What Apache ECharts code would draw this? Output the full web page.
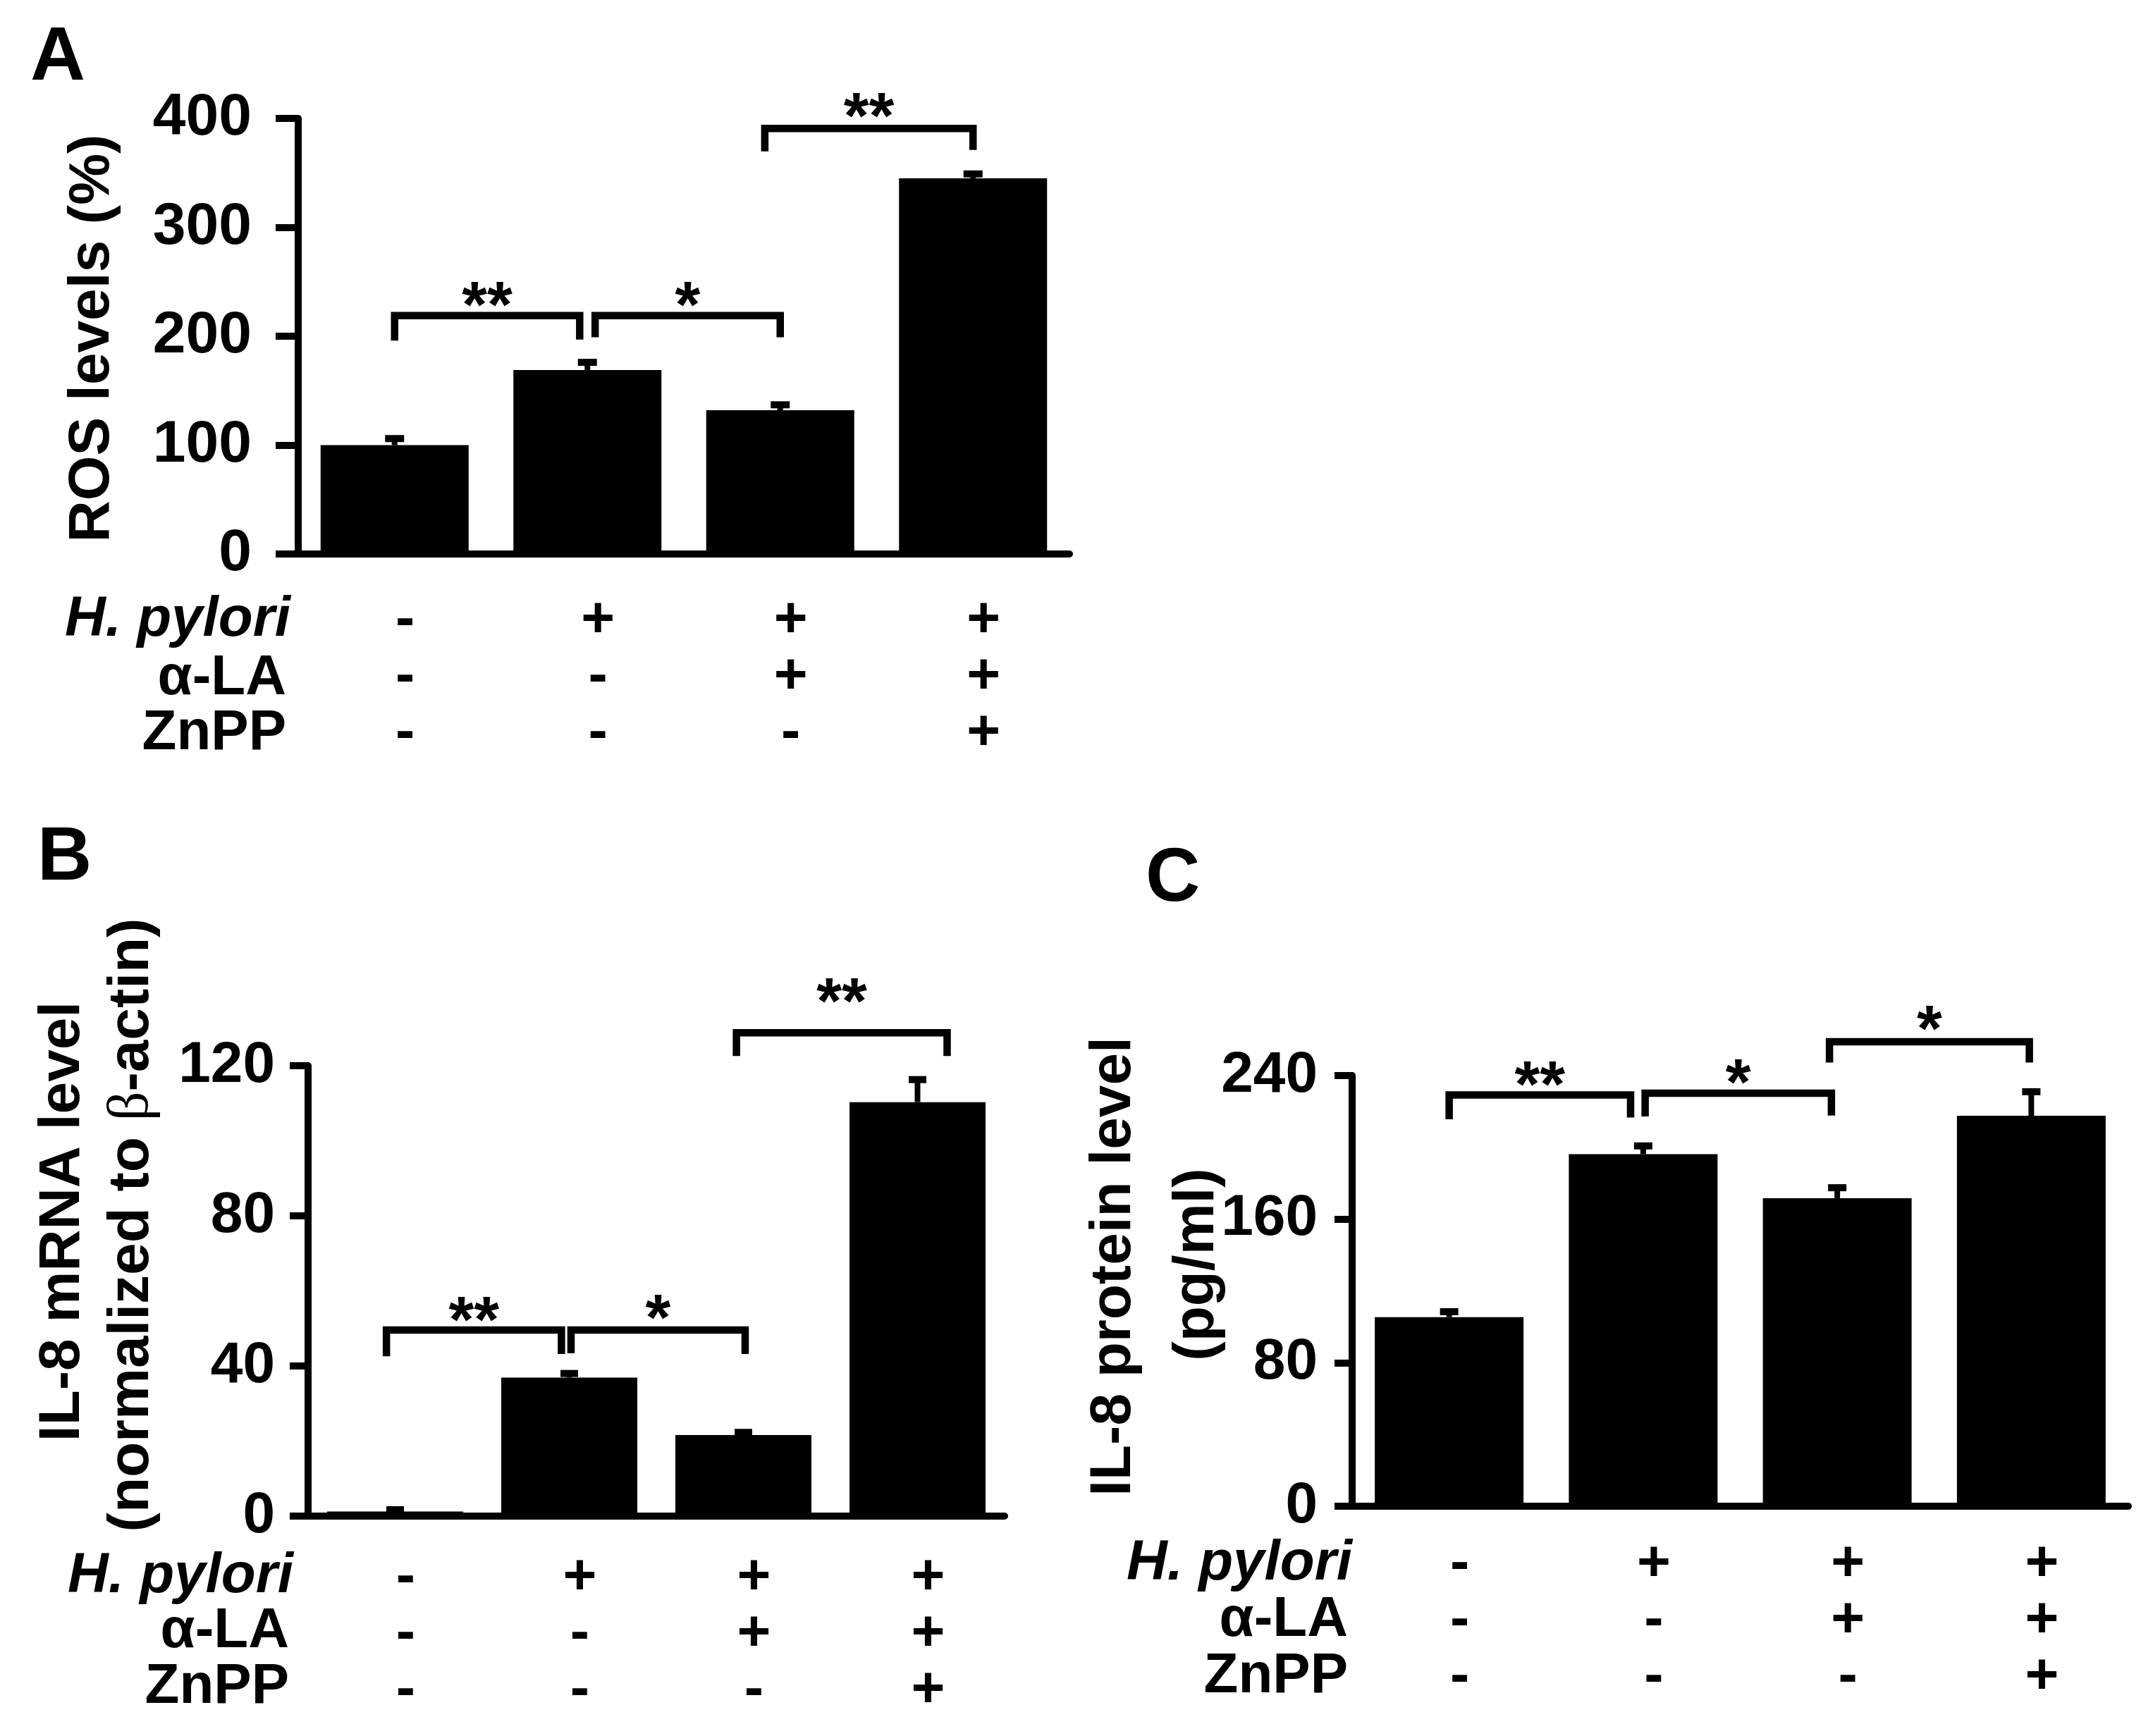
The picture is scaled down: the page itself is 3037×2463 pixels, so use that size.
<!DOCTYPE html>
<html>
<head>
<meta charset="utf-8">
<script src="https://cdn.jsdelivr.net/npm/echarts@6/dist/echarts.min.js"></script>
<style>
  html, body { margin: 0; padding: 0; background: #fff; }
  #chart { width: 3037px; height: 2463px; }
</style>
</head>
<body>
<div id="chart"></div>
<script>
// treatment table under every panel
const groups = ['g1', 'g2', 'g3', 'g4'];
const hPylori = ['-', '+', '+', '+'];
const alphaLA = ['-', '-', '+', '+'];
const znpp = ['-', '-', '-', '+'];

// A: ROS levels (%)
const rosMean = [100, 169, 132, 345];
const rosErr = [6, 7, 5, 4];
// B: IL-8 mRNA (normalized to beta-actin)
const mrnaMean = [1.2, 36.9, 21.6, 110.3];
const mrnaErr = [0.5, 1.1, 0.7, 6.0];
// C: IL-8 protein (pg/ml)
const protMean = [105.4, 196.2, 171.7, 217.6];
const protErr = [3.0, 4.6, 5.8, 13.4];

// significance brackets: [from, to, bar height, left leg end, right leg end, label, label height]
const rosSig = [
    [0.0, 0.96, 219, 196, 197, '**', 239],
    [1.04, 2.0, 219, 199, 199, '*', 239],
    [1.92, 3.0, 390.7, 369.7, 371, '**', 412]
];
const mrnaSig = [
    [-0.05, 0.955, 49.6, 42.6, 43.2, '**', 55.2],
    [1.01, 2.01, 49.6, 43.4, 43.2, '*', 55.8],
    [1.96, 3.17, 128.8, 122.6, 122.6, '**', 140]
];
const protSig = [
    [0.0, 0.935, 229.2, 215.6, 216.6, '**', 241.3],
    [1.01, 1.97, 230.2, 217.2, 217.7, '*', 242.4],
    [1.96, 2.99, 258.9, 247.3, 247.3, '*', 272.3]
];

const FONT = '"Liberation Sans", Arial, sans-serif';
const STAR_SIZE = 92;

let chart = echarts.init(document.getElementById('chart'), null, {renderer: 'canvas'});

function catAxis(gridIndex, margin) {
    return {
        type: 'category', gridIndex: gridIndex, data: groups,
        axisLine: {onZero: false, lineStyle: {color: '#000', width: 10}},
        axisTick: {show: false},
        axisLabel: {
            interval: 0, margin: margin, lineHeight: 80, padding: [0, 0, 0, 30],
            fontSize: 82, fontWeight: 'bold', fontFamily: FONT, color: '#000',
            formatter: (v, i) => [hPylori[i], alphaLA[i], znpp[i]].join('\n')
        }
    };
}

function posAxis(gridIndex) {
    // hidden linear twin of the category axis, used for the brackets
    return {type: 'value', gridIndex: gridIndex, min: -0.5, max: 3.5, show: false};
}

function valAxis(gridIndex, max, interval, margin, tickLen, labelPad, fontSize) {
    return {
        type: 'value', gridIndex: gridIndex, min: 0, max: max, interval: interval,
        axisLine: {show: true, onZero: false, lineStyle: {color: '#000', width: 10}},
        axisTick: {show: true, length: tickLen, lineStyle: {color: '#000', width: 10}},
        splitLine: {show: false},
        axisLabel: {
            margin: margin, padding: labelPad,
            fontSize: fontSize, fontWeight: 'bold', fontFamily: FONT, color: '#000'
        }
    };
}

function barSeries(axisIndex, means, barWidth) {
    return {
        type: 'bar', xAxisIndex: axisIndex * 2, yAxisIndex: axisIndex,
        data: means, barWidth: barWidth,
        itemStyle: {color: '#000'},
        z: 2
    };
}

function errSeries(axisIndex, means, errs, capW) {
    return {
        type: 'custom', xAxisIndex: axisIndex * 2, yAxisIndex: axisIndex, clip: false, z: 3,
        data: means.map((m, i) => [i, m, m + errs[i]]),
        renderItem: (params, api) => {
            const base = api.coord([api.value(0), api.value(1)]);
            const top = api.coord([api.value(0), api.value(2)]);
            return {
                type: 'group', children: [
                    {type: 'line', shape: {x1: base[0], y1: base[1], x2: top[0], y2: top[1]},
                        style: {stroke: '#000', lineWidth: 8}},
                    {type: 'line', shape: {x1: top[0] - capW / 2, y1: top[1], x2: top[0] + capW / 2, y2: top[1]},
                        style: {stroke: '#000', lineWidth: 10}}
                ]
            };
        }
    };
}

function sigSeries(axisIndex, sig) {
    return {
        type: 'custom', xAxisIndex: axisIndex * 2 + 1, yAxisIndex: axisIndex, clip: false, z: 4,
        data: sig.map((s) => [s[0], s[2]]),
        renderItem: (params, api) => {
            const s = sig[params.dataIndex];
            const p0 = api.coord([s[0], s[3]]);
            const p1 = api.coord([s[0], s[2]]);
            const p2 = api.coord([s[1], s[2]]);
            const p3 = api.coord([s[1], s[4]]);
            const pt = api.coord([(s[0] + s[1]) / 2, s[6]]);
            return {
                type: 'group', children: [
                    {type: 'polyline', shape: {points: [p0, p1, p2, p3]},
                        style: {stroke: '#000', lineWidth: 10.5, fill: null, lineJoin: 'miter', lineCap: 'butt'}},
                    {type: 'text', x: pt[0], y: pt[1] + STAR_SIZE * 0.235,
                        style: {text: s[5], fontSize: STAR_SIZE, fontWeight: 'bold', fontFamily: FONT,
                            fill: '#000', align: 'center', verticalAlign: 'middle'}}
                ]
            };
        }
    };
}

function label(text, x, y, size, align) {
    return {
        type: 'text', x: x, y: y,
        style: {text: text, fontSize: size, fontWeight: 'bold', fontFamily: FONT, fill: '#000',
            align: align || 'right', verticalAlign: 'middle'}
    };
}

function vtitle(text, x, y, rich) {
    return {
        type: 'text', x: x, y: y, rotation: Math.PI / 2,
        style: {text: text, fontSize: 82, fontWeight: 'bold', fontFamily: FONT, fill: '#000',
            align: 'center', verticalAlign: 'middle', rich: rich}
    };
}

function rowLabels(right, rows) {
    return [
        {type: 'text', x: right, y: rows[0],
            style: {text: 'H. pylori', fontSize: 80, fontWeight: 'bold', fontStyle: 'italic', fontFamily: FONT,
                fill: '#000', align: 'right', verticalAlign: 'middle'}},
        label('α-LA', right - 6, rows[1], 80),
        label('ZnPP', right - 6, rows[2], 80)
    ];
}

let option = {
    backgroundColor: '#fff',
    animation: false,
    grid: [
        {left: 423, top: 168, width: 1094, height: 618},
        {left: 437, top: 1512, width: 988, height: 639},
        {left: 1918, top: 1526, width: 1101, height: 611}
    ],
    xAxis: [
        catAxis(0, 54), posAxis(0),
        catAxis(1, 47), posAxis(1),
        catAxis(2, 42), posAxis(2)
    ],
    yAxis: [
        valAxis(0, 400, 100, 66, 32, [24, 0, 0, 0], 84),
        valAxis(1, 120, 40, 47, 26, [0, 0, 28, 0], 82),
        valAxis(2, 240, 80, 49, 25, [0, 0, 0, 0], 82)
    ],
    series: [
        barSeries(0, rosMean, 210), errSeries(0, rosMean, rosErr, 27), sigSeries(0, rosSig),
        barSeries(1, mrnaMean, 193), errSeries(1, mrnaMean, mrnaErr, 25), sigSeries(1, mrnaSig),
        barSeries(2, protMean, 211), errSeries(2, protMean, protErr, 26), sigSeries(2, protSig)
    ],
    graphic: [
        // panel letters
        label('A', 43, 83, 108, 'left'),
        label('B', 53, 1218, 107, 'left'),
        label('C', 1625, 1248, 107, 'left'),
        // axis titles
        vtitle('ROS levels (%)', 131, 480),
        vtitle('IL-8 mRNA level', 89, 1733),
        vtitle('(normalized to {b|β}-actin)', 187, 1738, {b: {fontFamily: '"Liberation Serif", serif', fontWeight: 'normal', fontSize: 82}}),
        vtitle('IL-8 protein level', 1580, 1797),
        vtitle('(pg/ml)', 1698, 1794),
        // treatment row names
        ...rowLabels(412, [880, 963, 1041]),
        ...rowLabels(416, [2237, 2315, 2394]),
        ...rowLabels(1918, [2219, 2299, 2379])
    ]
};

chart.setOption(option);
</script>
</body>
</html>
